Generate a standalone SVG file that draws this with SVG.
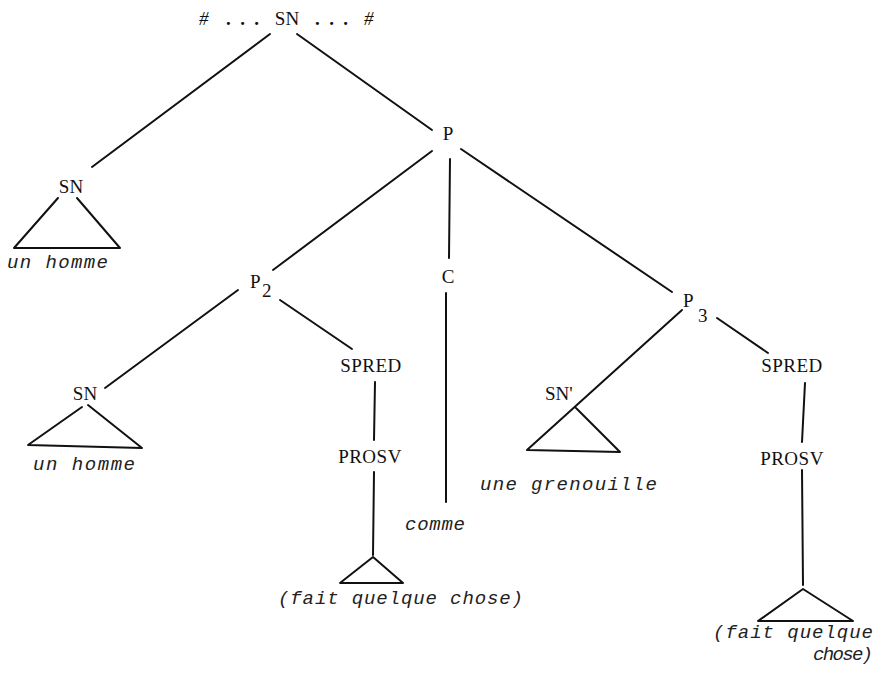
<svg xmlns="http://www.w3.org/2000/svg" width="879" height="676" viewBox="0 0 879 676">
<style>
.lbl{font-family:"Liberation Serif","DejaVu Serif",serif;font-size:19px;fill:#111;}
.c{text-anchor:middle;}
.it{font-family:"Liberation Mono","DejaVu Sans Mono",monospace;font-style:italic;font-size:19px;fill:#222;}
.ln{stroke:#111;stroke-width:2;fill:none;stroke-linecap:round;stroke-linejoin:round;}
</style>
<rect width="879" height="676" fill="#fff"/>
<g id="connectors">
<line class="ln" x1="270" y1="34" x2="92" y2="167"/>
<line class="ln" x1="297" y1="34" x2="432" y2="130"/>
<line class="ln" x1="432" y1="151" x2="273" y2="270"/>
<line class="ln" x1="450" y1="159" x2="449" y2="258"/>
<line class="ln" x1="461" y1="149" x2="672" y2="292"/>
<line class="ln" x1="238" y1="290" x2="105" y2="388"/>
<line class="ln" x1="280" y1="300" x2="352" y2="349"/>
<line class="ln" x1="375" y1="382" x2="374" y2="440"/>
<line class="ln" x1="374" y1="472" x2="373" y2="555"/>
<line class="ln" x1="446" y1="293" x2="446" y2="502"/>
<line class="ln" x1="717" y1="318" x2="768" y2="353"/>
<line class="ln" x1="805" y1="383" x2="802" y2="442"/>
<line class="ln" x1="802" y1="470" x2="803" y2="585"/>
</g>
<g id="root">
<text class="lbl" x="199" y="25" font-style="italic">#</text>
<text class="lbl" x="226" y="25" textLength="33" font-weight="bold">...</text>
<text class="lbl c" x="287" y="25">SN</text>
<text class="lbl" x="315" y="25" textLength="33" font-weight="bold">...</text>
<text class="lbl" x="364" y="25" font-style="italic">#</text>
</g>
<g id="sn1">
<text class="lbl c" x="71" y="193">SN</text>
<path class="ln" d="M58,198 L14,248 L120,248 L77,198"/>
<text class="it" x="7" y="268" textLength="101">un homme</text>
</g>
<g id="p">
<text class="lbl c" x="448" y="140">P</text>
</g>
<g id="p2">
<text class="lbl" x="250" y="288">P</text>
<text class="lbl" x="262" y="297">2</text>
</g>
<g id="c">
<text class="lbl c" x="448" y="283">C</text>
<text class="it" x="405" y="530" textLength="60">comme</text>
</g>
<g id="p3">
<text class="lbl" x="683" y="307">P</text>
<text class="lbl" x="698" y="322">3</text>
</g>
<g id="sn2">
<text class="lbl c" x="85" y="400">SN</text>
<path class="ln" d="M82,407 L28,445 L142,448 L88,405"/>
<text class="it" x="33" y="470" textLength="102">un homme</text>
</g>
<g id="spred1">
<text class="lbl c" x="371" y="372" letter-spacing="0.5">SPRED</text>
</g>
<g id="prosv1">
<text class="lbl c" x="370" y="463" letter-spacing="0.5">PROSV</text>
<path class="ln" d="M373,557 L340,583 L403,583 Z"/>
<text class="it" x="278" y="604" textLength="245">(fait quelque chose)</text>
</g>
<g id="snprime">
<text class="lbl" x="545" y="400">SN'</text>
<path class="ln" d="M682,310 L527,450 L620,452 L576,408"/>
<text class="it" x="480" y="490" textLength="177">une grenouille</text>
</g>
<g id="spred2">
<text class="lbl c" x="792" y="372" letter-spacing="0.5">SPRED</text>
</g>
<g id="prosv2">
<text class="lbl c" x="792" y="465" letter-spacing="0.5">PROSV</text>
<path class="ln" d="M803,589 L758,621 L853,621 Z"/>
<text class="it" x="713" y="638" textLength="160">(fait quelque</text>
<text class="it" x="813" y="660" textLength="60">chose)</text>
</g>
</svg>
